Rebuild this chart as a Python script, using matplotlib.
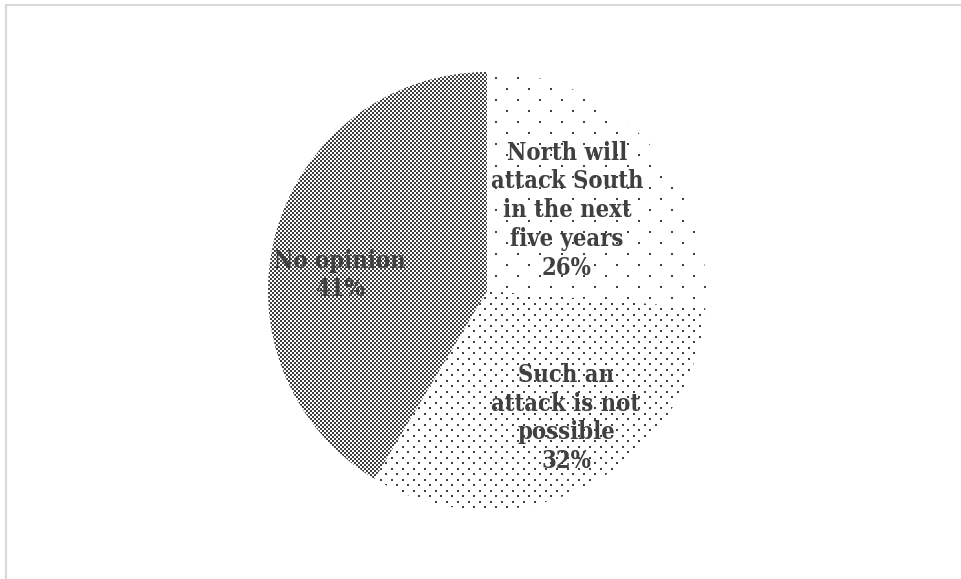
import numpy as np
import matplotlib
matplotlib.use("Agg")
import matplotlib.pyplot as plt
from matplotlib.patches import Rectangle

labels = ["North will\nattack South\nin the next\nfive years\n26%",
          "Such an\nattack is not\npossible\n32%",
          "No opinion\n41%"]
values = [26, 32, 41]
label_pos = [(567, 369), (566, 161), (340, 304)]

W, H = 962, 579
fig = plt.figure(figsize=(W / 100, H / 100), dpi=100)
ax = fig.add_axes([0, 0, 1, 1])

# pie geometry (pixel units, y up)
cx, cy, r = 487, 288, 219
wedges, _ = ax.pie(values, center=(cx, cy), radius=r, startangle=90,
                   counterclock=False, frame=True,
                   wedgeprops=dict(linewidth=0, facecolor="none"))
ax.set_xlim(0, W)
ax.set_ylim(0, H)
ax.set_aspect("auto")
ax.axis("off")

# fill textures
ii, jj = np.mgrid[0:H, 0:W]
dark = np.array([0.25, 0.25, 0.25])

def texture(mask):
    img = np.ones((H, W, 3))
    img[mask] = dark
    return img

sparse = ((ii % 22 < 2) & (jj % 22 < 2)) | (((ii + 11) % 22 < 2) & ((jj + 11) % 22 < 2))
dense = ((ii % 11 < 2) & (jj % 11 < 2)) | (((ii + 5) % 11 < 2) & ((jj + 5) % 11 < 2))
checker = ((ii // 2 + jj // 2) % 2 == 0)

for w, m in zip(wedges, [sparse, dense, checker]):
    im = ax.imshow(texture(m), extent=[0, W, 0, H], origin="upper",
                   interpolation="nearest", zorder=1)
    im.set_clip_path(w)

for txt, (x, y) in zip(labels, label_pos):
    ax.text(x, y, txt, ha="center", va="center", fontsize=17,
            fontweight="bold", family="DejaVu Serif", fontstretch="condensed",
            color="#404040", linespacing=1.25, zorder=3)

# chart area border
ax.add_patch(Rectangle((6, -20), W + 40, H + 20 - 5, fill=False,
                       edgecolor="#d9d9d9", linewidth=1.5, zorder=4,
                       clip_on=False))

fig.savefig("out.png", dpi=100)
